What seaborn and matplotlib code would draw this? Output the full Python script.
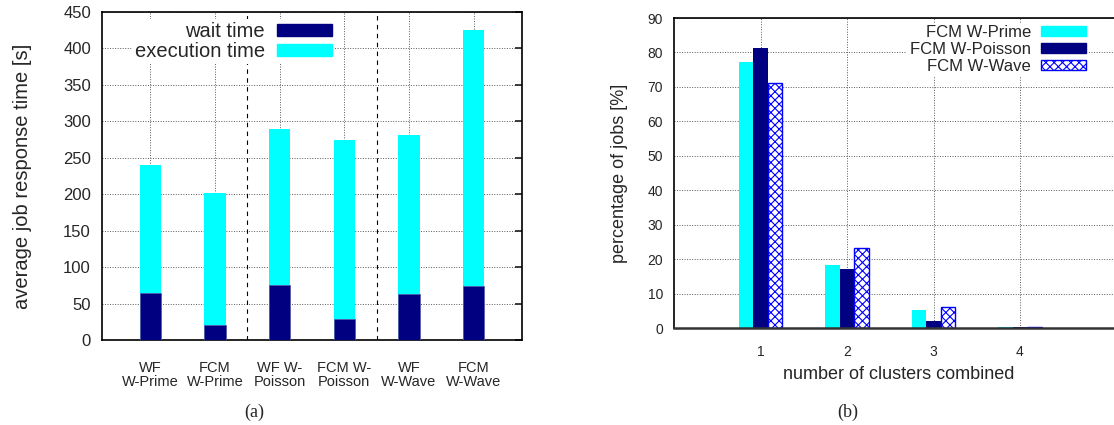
import matplotlib
matplotlib.use("Agg")
import matplotlib.pyplot as plt
from matplotlib.patches import Patch
import seaborn as sns
import pandas as pd

# ---- data (a) ----
configs = ["WF\nW-Prime", "FCM\nW-Prime", "WF W-\nPoisson", "FCM W-\nPoisson", "WF\nW-Wave", "FCM\nW-Wave"]
wait_time = [64, 20, 75, 29, 63, 74]
exec_time = [176, 181, 215, 246, 218, 351]

# ---- data (b) ----
clusters = ["1", "2", "3", "4"]
fcm_prime = [77.2, 18.3, 5.2, 0.3]
fcm_poisson = [81.2, 17.1, 2.1, 0.3]
fcm_wave = [71.0, 23.1, 6.2, 0.3]
series_names = ["FCM W-Prime", "FCM W-Poisson", "FCM W-Wave"]

CYAN = "#00ffff"
NAVY = "#000080"
BLUE = "#0000ff"

sns.set_theme(style="white")
plt.rcParams["font.family"] = ["Liberation Sans", "DejaVu Sans"]
plt.rcParams["hatch.linewidth"] = 0.8

fig = plt.figure(figsize=(11.14, 4.25), dpi=100)
ax1 = fig.add_axes([102/1114, 85/425, 420/1114, 328/425])
ax2 = fig.add_axes([674/1114, 97/425, 449.8/1114, 310/425])

grid_kw = dict(linestyle=(0, (1, 1.6)), color="0.35", linewidth=0.7)

# ---------- (a) ----------
totals = [w + e for w, e in zip(wait_time, exec_time)]
df_a = pd.DataFrame({"config": configs, "total": totals, "wait": wait_time})
sns.barplot(data=df_a, x="config", y="total", color=CYAN, saturation=1,
            width=0.33, errorbar=None, ax=ax1, linewidth=0, zorder=2)
sns.barplot(data=df_a, x="config", y="wait", color=NAVY, saturation=1,
            width=0.33, errorbar=None, ax=ax1, linewidth=0.6, edgecolor="#5a5aa8", zorder=3)
ax1.set_xlim(-0.75, 5.75)
ax1.set_ylim(0, 450)
ax1.set_yticks(range(0, 451, 50))
ax1.set_axisbelow(True)
ax1.grid(True, **grid_kw)
for xv in (1.5, 3.5):
    ax1.axvline(xv, color="black", linestyle=(0, (4, 4)), linewidth=0.8, zorder=1)
ax1.set_xlabel("")
ax1.set_ylabel("average job response time [s]", fontsize=14.5, labelpad=22)
ax1.tick_params(axis="y", direction="in", length=5, right=True, labelsize=12, pad=8)
ax1.tick_params(axis="x", direction="out", length=5, labelsize=10.5, pad=10)
for lab in ax1.get_xticklabels():
    lab.set_linespacing(1.0)
for s in ax1.spines.values():
    s.set_linewidth(1.2)
    s.set_color("black")
h1 = [Patch(facecolor=NAVY, edgecolor=NAVY), Patch(facecolor=CYAN, edgecolor=CYAN)]
leg1 = ax1.legend(h1, ["wait time", "execution time"], loc="upper right",
                  bbox_to_anchor=(0.56, 0.985), markerfirst=False, fontsize=14.5,
                  frameon=True, framealpha=1, facecolor="white", edgecolor="white",
                  handlelength=2.75, handleheight=0.55, borderpad=0.15,
                  labelspacing=0.05, handletextpad=0.6, borderaxespad=0.1, fancybox=False)
leg1.get_frame().set_linewidth(0)

# ---------- (b) ----------
df_b = pd.DataFrame({
    "clusters": clusters * 3,
    "pct": fcm_prime + fcm_poisson + fcm_wave,
    "series": [series_names[0]] * 4 + [series_names[1]] * 4 + [series_names[2]] * 4,
})
sns.barplot(data=df_b, x="clusters", y="pct", hue="series", hue_order=series_names,
            palette=[CYAN, NAVY, "white"], saturation=1, width=0.5, errorbar=None,
            ax=ax2, linewidth=0, legend=False, zorder=2)
for bar in ax2.containers[2]:
    bar.set_edgecolor(BLUE)
    bar.set_hatch("xxxx")
    bar.set_linewidth(1.0)
ax2.set_xlim(-1, 4.2)
ax2.set_ylim(0, 90)
ax2.set_yticks(range(0, 91, 10))
ax2.set_axisbelow(True)
ax2.grid(True, **grid_kw)
ax2.set_xlabel("number of clusters combined", fontsize=13, labelpad=5)
ax2.set_ylabel("percentage of jobs [%]", fontsize=13, labelpad=14)
ax2.tick_params(axis="y", direction="in", length=5, right=True, labelsize=10, pad=8)
ax2.tick_params(axis="x", direction="out", length=5, labelsize=10, pad=7)
for s in ax2.spines.values():
    s.set_linewidth(1.2)
    s.set_color("black")
ax2.spines["bottom"].set_linewidth(1.8)
ax2.spines["bottom"].set_color("0.2")
h2 = [Patch(facecolor=CYAN, edgecolor=CYAN),
      Patch(facecolor=NAVY, edgecolor=NAVY),
      Patch(facecolor="white", edgecolor=BLUE, hatch="xxxx", linewidth=1.0)]
leg2 = ax2.legend(h2, series_names, loc="upper right", bbox_to_anchor=(0.925, 0.99),
                  markerfirst=False, fontsize=12, frameon=True, framealpha=1,
                  facecolor="white", edgecolor="white", handlelength=2.7,
                  handleheight=0.55, borderpad=0.15, labelspacing=0.12,
                  handletextpad=0.6, borderaxespad=0.1, fancybox=False)
leg2.get_frame().set_linewidth(0)

fig.text(254/1114, 1 - 412/425, "(a)", ha="center", va="center",
         fontsize=13, family=["Liberation Serif", "DejaVu Serif"])
fig.text(848/1114, 1 - 412/425, "(b)", ha="center", va="center",
         fontsize=13, family=["Liberation Serif", "DejaVu Serif"])

fig.savefig("out.png", dpi=100)
